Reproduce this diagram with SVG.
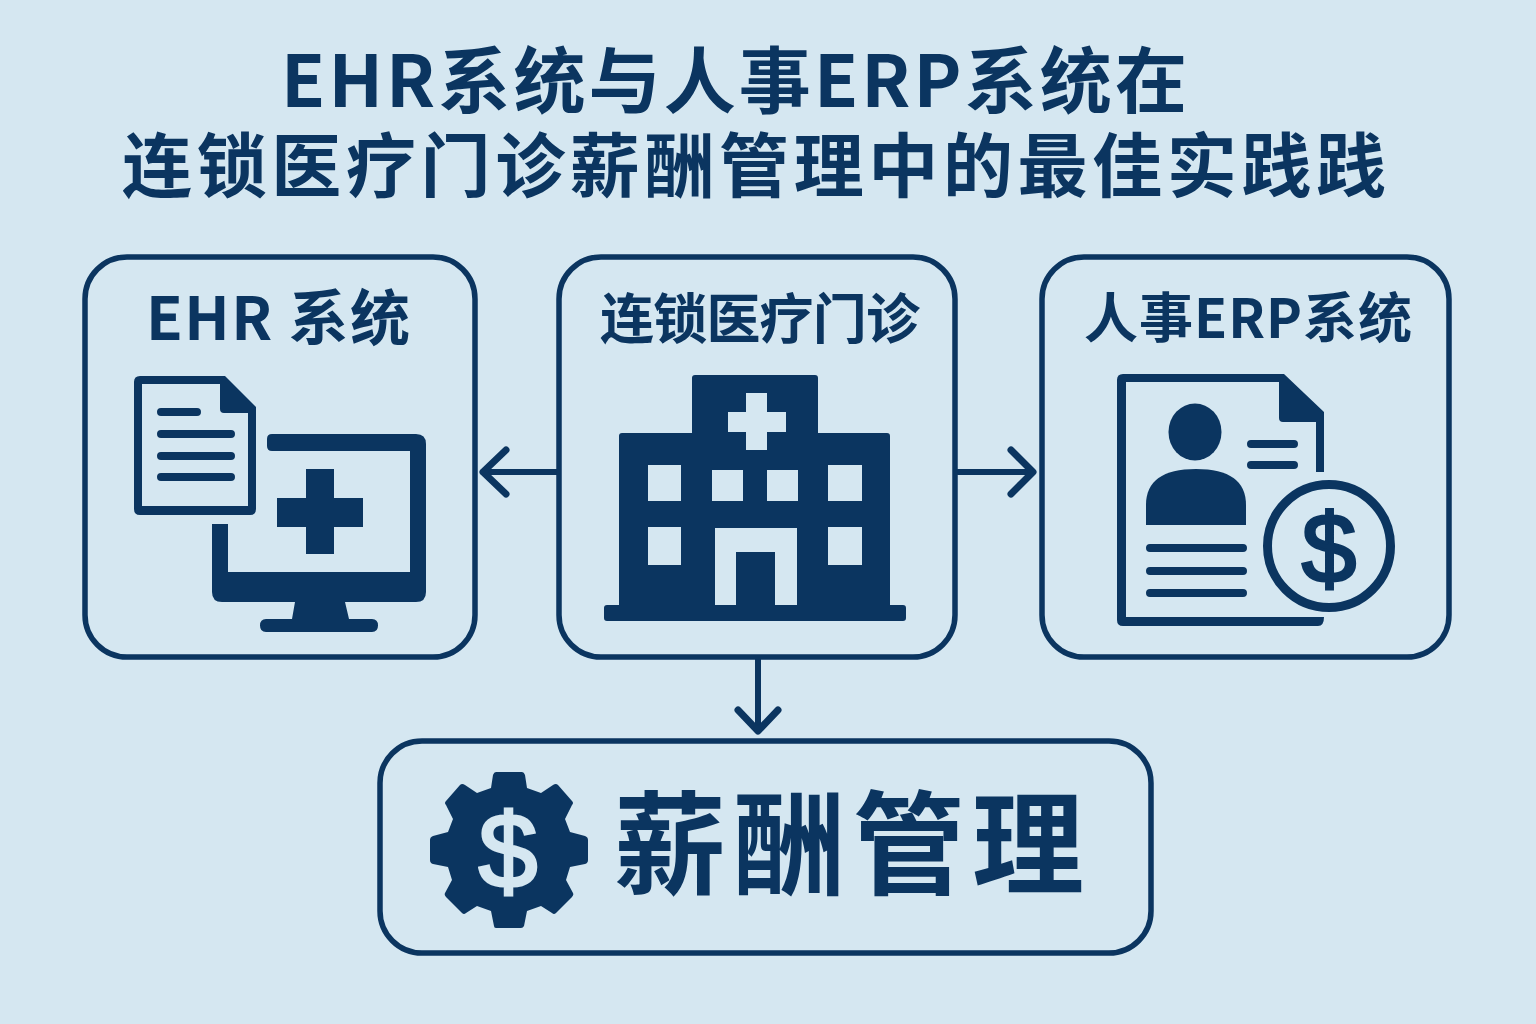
<svg xmlns="http://www.w3.org/2000/svg" width="1536" height="1024" viewBox="0 0 1536 1024">
<style>
.t{font-family:"Noto Sans CJK SC","Liberation Sans",sans-serif;font-weight:700;fill:#0b3560;text-anchor:middle}
.d{font-family:"Liberation Sans",sans-serif;font-weight:400;text-anchor:middle;stroke-width:3}
.box{fill:none;stroke:#0b3560;stroke-width:5.500}
.con{fill:none;stroke:#0b3560;stroke-width:6;stroke-linecap:round;stroke-linejoin:round}
.f{fill:#0b3560}
.w{fill:#d5e7f1}
.l{stroke:#0b3560;stroke-width:8;stroke-linecap:round;fill:none}
</style>
<rect width="1536" height="1024" fill="#d5e7f1"/>
<g id="title">
<text class="t" x="734" y="107" font-size="72" textLength="906" lengthAdjust="spacing">EHR系统与人事ERP系统在</text>
<text class="t" x="754" y="192" font-size="70" textLength="1264" lengthAdjust="spacing">连锁医疗门诊薪酬管理中的最佳实践践</text>
</g>
<g id="connectors">
<path class="con" d="M558 472H483"/><path class="con" style="stroke-width:7" d="M506 450L483 472L506 494"/>
<path class="con" d="M958 472H1032"/><path class="con" style="stroke-width:7" d="M1011 450L1033 472L1011 494"/>
<path class="con" d="M758 658V730"/><path class="con" style="stroke-width:7" d="M738 710L758 731L778 710"/>
</g>
<g id="ehr">
<rect class="box" x="85" y="257" width="390" height="400" rx="42"/>
<text class="t" x="278" y="340" font-size="60" textLength="264" lengthAdjust="spacing">EHR 系统</text>
<path class="f" fill-rule="evenodd" d="M272 434H416Q426 434 426 444V592Q426 602 416 602H345L349 619H372Q378 619 378 625.500Q378 632 372 632H266Q260 632 260 625.500Q260 619 266 619H292L295 602H222Q212 602 212 592V524H228V572H410V451H272Q267 451 267 446V439Q267 434 272 434Z"/>
<path class="f" d="M306 469H334V498H363V527H334V554H306V527H277V498H306Z"/>
<path class="f" fill-rule="evenodd" d="M140 376H225L256 407V509Q256 515 250 515H140Q134 515 134 509V382Q134 376 140 376ZM142 384V506H248V413H224Q220 413 220 409V384Z"/>
<path class="l" d="M161 412H197M161 434H231M161 456H231M161 477H231"/>
</g>
<g id="clinic">
<rect class="box" x="559" y="257" width="396" height="400" rx="42"/>
<text class="t" x="760" y="339" font-size="54" textLength="320" lengthAdjust="spacing">连锁医疗门诊</text>
<path class="f" d="M695 375H815Q818 375 818 378V433H887Q890 433 890 436V605H903Q906 605 906 608V618Q906 621 903 621H607Q604 621 604 618V608Q604 605 607 605H619V436Q619 433 622 433H692V378Q692 375 695 375Z"/>
<path class="w" d="M746 393H767V412H786V432H767V450H746V432H728V412H746Z"/>
<path class="w" d="M648 465H681V501H648ZM712 470H743V501H712ZM767 470H798V501H767ZM828 465H862V501H828ZM648 527H681V565H648ZM828 527H862V565H828Z"/>
<path class="w" d="M715 528H797V605H775V552H736V605H715Z"/>
</g>
<g id="erp">
<rect class="box" x="1042" y="257" width="407" height="400" rx="42"/>
<text class="t" x="1248" y="338" font-size="54" textLength="328" lengthAdjust="spacing">人事ERP系统</text>
<path class="f" fill-rule="evenodd" d="M1123 374H1284L1324 412V472H1316V422H1283Q1279 422 1279 418V382H1126V617H1324Q1324 626 1318 626H1123Q1117 626 1117 620V380Q1117 374 1123 374Z"/>
<ellipse class="f" cx="1195" cy="432" rx="26.500" ry="28.500"/>
<path class="f" d="M1146 525V505Q1146 469 1196 469Q1246 469 1246 505V525Z"/>
<path class="l" d="M1251 444H1294M1251 465H1294M1150 548H1243M1150 571H1243M1150 593H1243"/>
<circle cx="1329" cy="546" r="61.500" fill="none" stroke="#0b3560" stroke-width="9"/>
<text class="d" x="1329" y="582" font-size="98" fill="#0b3560" stroke="#0b3560">$</text>
</g>
<g id="payroll">
<rect class="box" x="380" y="741" width="771" height="212" rx="42"/>
<path class="f" d="M496 772H522Q524 772 525 775L527 788L541 793L553 785Q556 783 558 785L572 801Q574 803 572 805L565 819L570 832L585 836Q588 837 588 840V860Q588 863 585 864L570 867L566 880L573 893Q574 895 572 897L556 913Q554 915 552 913L541 906L527 911L524 926Q523 928 521 928H496Q494 928 494 926L491 911L477 906L466 913Q464 915 462 913L446 897Q444 895 445 893L452 880L448 867L433 864Q430 863 430 860V840Q430 837 433 836L448 832L453 819L446 805Q444 803 446 801L460 785Q462 783 465 785L477 793L491 788L493 775Q494 772 496 772Z"/>
<text class="d" x="508" y="888" font-size="106" fill="#d5e7f1" stroke="#d5e7f1">$</text>
<text class="t" x="849" y="886" font-size="112" textLength="470" lengthAdjust="spacing">薪酬管理</text>
</g>
</svg>
